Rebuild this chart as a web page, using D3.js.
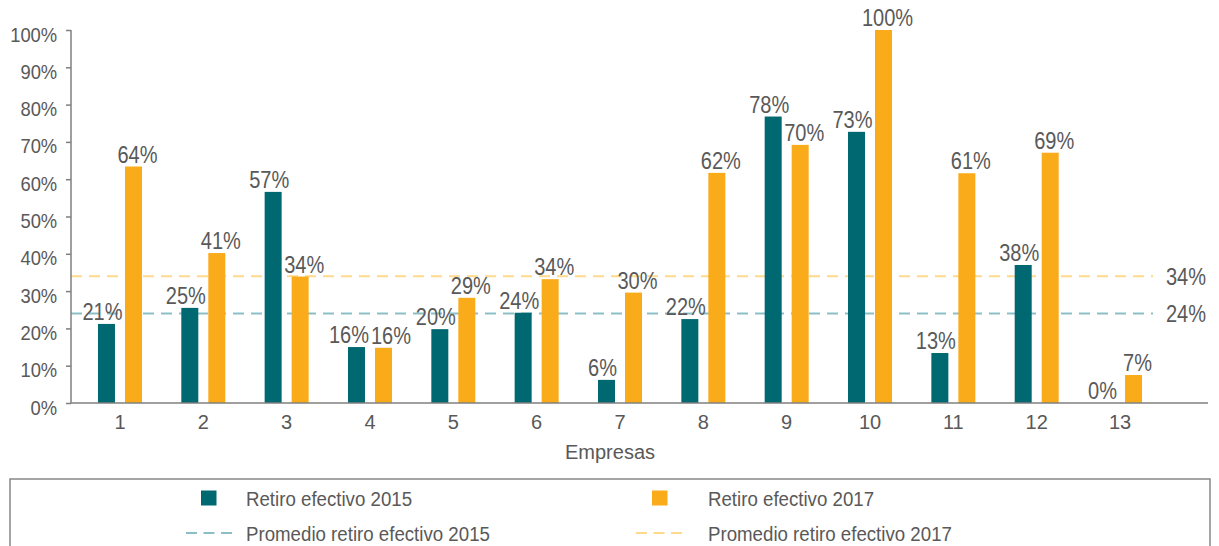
<!DOCTYPE html>
<html>
<head>
<meta charset="utf-8">
<script src="https://cdn.jsdelivr.net/npm/d3@7"></script>
<style>
  body { margin: 0; background: #fff; }
  svg text { font-family: "Liberation Sans Narrow", "Liberation Sans", Arial, sans-serif; fill: #595959; }
</style>
</head>
<body>
<div id="chart-container"></div>
<script>
// Données
const empresas = ["1", "2", "3", "4", "5", "6", "7", "8", "9", "10", "11", "12", "13"];
const retiro2015 = [21.2, 25.5, 56.6, 15, 19.8, 24.2, 6.2, 22.5, 76.8, 72.7, 13.4, 37, 0];
const retiro2017 = [63.4, 40.2, 33.9, 14.8, 28.2, 33.2, 29.6, 61.7, 69.2, 100, 61.6, 67.1, 7.5];
const etiquetas2015 = ["21%", "25%", "57%", "16%", "20%", "24%", "6%", "22%", "78%", "73%", "13%", "38%", "0%"];
const etiquetas2017 = ["64%", "41%", "34%", "16%", "29%", "34%", "30%", "62%", "70%", "100%", "61%", "69%", "7%"];
const promedio2015 = 24;
const promedio2017 = 34;
const yTicks = [0, 10, 20, 30, 40, 50, 60, 70, 80, 90, 100];

const teal = "#006870";
const orange = "#F9AB1A";
const tealDash = "#8CBFC5";
const orangeDash = "#FFD98C";

const margin = { top: 30, right: 11, bottom: 143, left: 71 };
const width = 1219 - margin.left - margin.right;
const height = 546 - margin.top - margin.bottom;
const SX = 0.87; // compression horizontale des étiquettes

// texte un peu condensé (pas de police "narrow" disponible)
function addText(parent, x, y, str, size, sx, anchor) {
  return parent
    .append("text")
    .attr("transform", `translate(${x},${y}) scale(${sx},1)`)
    .attr("text-anchor", anchor || "start")
    .style("font-size", size + "px")
    .text(str);
}

const svg = d3
  .select("#chart-container")
  .append("svg")
  .attr("width", 1219)
  .attr("height", 546);

const g = svg.append("g").attr("transform", `translate(${margin.left},${margin.top})`);

const x0 = d3.scaleBand().domain(empresas).range([7.3, 1090.7]).padding(0);
const x1 = d3.scaleBand().domain(["2015", "2017"]).range([-22, 22]).paddingInner(10 / 27).paddingOuter(0);
const y = d3.scaleLinear().domain([0, 100]).range([height, 0]);

const data = empresas.map((e, i) => ({
  name: e,
  series: [
    { key: "2015", value: retiro2015[i], label: etiquetas2015[i], color: teal, shift: -4 },
    { key: "2017", value: retiro2017[i], label: etiquetas2017[i], color: orange, shift: 4 },
  ],
}));

// Lignes de moyenne
const avgEnd = 1153 - margin.left;
[
  { v: promedio2015, c: tealDash },
  { v: promedio2017, c: orangeDash },
].forEach((a) => {
  g.append("line")
    .attr("x1", 0)
    .attr("x2", avgEnd)
    .attr("y1", y(a.v))
    .attr("y2", y(a.v))
    .attr("stroke", a.c)
    .attr("stroke-width", 2)
    .attr("stroke-dasharray", "11,7");
  addText(g, avgEnd + 13, y(a.v) + 9, a.v + "%", 23, SX);
});

// Barres
const groups = g
  .selectAll(".bar-group")
  .data(data)
  .enter()
  .append("g")
  .attr("class", "bar-group")
  .attr("transform", (d) => `translate(${x0(d.name) + x0.bandwidth() / 2},0)`);

groups
  .selectAll("rect")
  .data((d) => d.series)
  .enter()
  .append("rect")
  .attr("x", (d) => x1(d.key))
  .attr("y", (d) => y(d.value))
  .attr("width", x1.bandwidth())
  .attr("height", (d) => height - y(d.value))
  .attr("fill", (d) => d.color);

// Étiquettes de valeur, écartées si elles se chevauchent
groups.each(function (grp) {
  const sel = d3.select(this);
  const pos = grp.series.map((d) => ({
    d: d,
    x: x1(d.key) + x1.bandwidth() / 2 + d.shift,
    y: y(d.value) - 4,
  }));
  const nodes = pos.map((p) => addText(sel, p.x, p.y, p.d.label, 23, SX, "middle"));
  const w = nodes.map((n) => n.node().getComputedTextLength() * SX);
  const a = pos[0], b = pos[1];
  const vOverlap = Math.abs(a.y - b.y) < 20;
  const gap = (b.x - w[1] / 2) - (a.x + w[0] / 2);
  if (vOverlap && gap < 2) {
    const push = (2 - gap) / 2;
    a.x -= push;
    b.x += push;
    nodes[0].attr("transform", `translate(${a.x},${a.y}) scale(${SX},1)`);
    nodes[1].attr("transform", `translate(${b.x},${b.y}) scale(${SX},1)`);
  }
});

// Axes
const yAxis = g.append("g").call(
  d3.axisLeft(y).tickValues(yTicks).tickSize(5).tickPadding(10).tickFormat((d) => d + "%")
);
yAxis.select(".domain").attr("stroke", "#7f7f7f").attr("stroke-width", 1.5).attr("d", `M0,0V${height}`);
yAxis.selectAll(".tick line").attr("stroke", "#7f7f7f").attr("stroke-width", 1.5);
yAxis
  .selectAll(".tick text")
  .style("font-size", "20px")
  .attr("fill", "#595959")
  .attr("dy", "0.55em")
  .attr("transform", "scale(0.92,1)");

const xAxis = g
  .append("g")
  .attr("transform", `translate(0,${height})`)
  .call(d3.axisBottom(x0).tickSize(0).tickPadding(12));
xAxis.select(".domain").attr("stroke", "#7f7f7f").attr("stroke-width", 1.5).attr("d", `M0,0H${width}`);
xAxis.selectAll(".tick text").style("font-size", "20px").attr("fill", "#595959");

addText(g, 610 - margin.left, height + 56, "Empresas", 20, 1, "middle");

// Légende
svg.append("rect")
  .attr("x", 10)
  .attr("y", 479)
  .attr("width", 1200)
  .attr("height", 80)
  .attr("fill", "none")
  .attr("stroke", "#888")
  .attr("stroke-width", 1.5);

const legend = [
  { type: "box", color: teal, text: "Retiro efectivo 2015", x: 201, tx: 246, y: 498 },
  { type: "box", color: orange, text: "Retiro efectivo 2017", x: 652, tx: 708, y: 498 },
  { type: "dash", color: tealDash, text: "Promedio retiro efectivo 2015", x: 186, tx: 246, y: 533 },
  { type: "dash", color: orangeDash, text: "Promedio retiro efectivo 2017", x: 636, tx: 708, y: 533 },
];

legend.forEach((l) => {
  if (l.type === "box") {
    svg.append("rect").attr("x", l.x).attr("y", l.y - 7.5).attr("width", 15.5).attr("height", 15).attr("fill", l.color);
  } else {
    svg.append("line")
      .attr("x1", l.x).attr("x2", l.x + 46)
      .attr("y1", l.y).attr("y2", l.y)
      .attr("stroke", l.color).attr("stroke-width", 2).attr("stroke-dasharray", "11,6.5");
  }
  addText(svg, l.tx, l.y + 8, l.text, 21, 0.89);
});
</script>
</body>
</html>
